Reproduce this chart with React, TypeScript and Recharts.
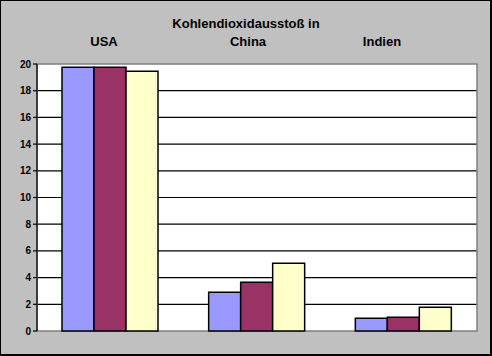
import { BarChart, Bar, XAxis, YAxis, CartesianGrid, ReferenceArea } from "recharts";

const countries = ["USA", "China", "Indien"];
const seriesA = [19.75, 2.9, 0.95];
const seriesB = [19.75, 3.65, 1.03];
const seriesC = [19.45, 5.07, 1.78];
const yTicks = [0, 2, 4, 6, 8, 10, 12, 14, 16, 18, 20];
const gridValues = [2, 4, 6, 8, 10, 12, 14, 16, 18];

const data = countries.map((name, i) => ({
  name,
  a: seriesA[i],
  b: seriesB[i],
  c: seriesC[i],
}));

const BG = "#c0c0c0";
const FONT = "'Liberation Sans', Arial, sans-serif";

export default function App() {
  return (
    <div
      style={{
        position: "absolute",
        left: 0,
        top: 0,
        width: 492,
        height: 356,
        boxSizing: "border-box",
        background: BG,
        border: "1px solid #000",
        borderRightWidth: 2,
        borderBottomWidth: 2,
        fontFamily: FONT,
      }}
    >
      <style>{`body{margin:0}`}</style>

      {/* title, the second line holds the country names */}
      <div style={{ position: "absolute", left: 0, top: 15, width: 490, textAlign: "center", fontSize: 13, fontWeight: "bold" }}>
        Kohlendioxidausstoß in
      </div>
      {countries.map((c, i) => (
        <div
          key={c}
          style={{
            position: "absolute",
            left: [104, 248, 382][i] - 40 - 1,
            top: 33,
            width: 80,
            textAlign: "center",
            fontSize: 13,
            fontWeight: "bold",
          }}
        >
          {c}
        </div>
      ))}

      <div style={{ position: "absolute", left: -1, top: -1 }}>
        <BarChart
          width={492}
          height={356}
          data={data}
          margin={{ top: 64, right: 15, left: 0, bottom: 25 }}
          barCategoryGap={25}
          barGap={0}
        >
          <CartesianGrid
            horizontalValues={gridValues}
            vertical={false}
            stroke="#000"
            strokeWidth={1.2}
            fill="#fff"
            fillOpacity={1}
          />
          <ReferenceArea y1={0} y2={20} fill="none" stroke="#808080" strokeWidth={1.5} />
          <XAxis dataKey="name" tick={false} height={0} axisLine={{ stroke: "#808080", strokeWidth: 1.5 }} tickLine={false} />
          <YAxis
            domain={[0, 20]}
            ticks={yTicks}
            interval={0}
            width={37}
            tickSize={4}
            axisLine={{ stroke: "#000", strokeWidth: 1.2 }}
            tickLine={{ stroke: "#000", strokeWidth: 1.2 }}
            tick={{ fontSize: 10, fontWeight: "bold", fill: "#000", fontFamily: FONT }}
          />
          <Bar dataKey="a" fill="#9999ff" stroke="#000" strokeWidth={1.5} isAnimationActive={false} />
          <Bar dataKey="b" fill="#993366" stroke="#000" strokeWidth={1.5} isAnimationActive={false} />
          <Bar dataKey="c" fill="#ffffcc" stroke="#000" strokeWidth={1.5} isAnimationActive={false} />
        </BarChart>
      </div>
    </div>
  );
}
